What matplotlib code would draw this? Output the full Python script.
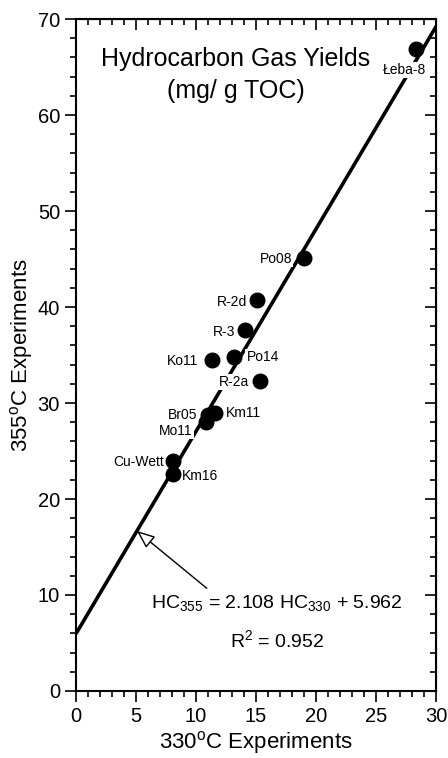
import numpy as np
import matplotlib
matplotlib.use('Agg')
import matplotlib.pyplot as plt
from matplotlib.ticker import MultipleLocator

plt.rcParams['font.family'] = ['Liberation Sans', 'DejaVu Sans']
plt.rcParams['mathtext.fontset'] = 'custom'
plt.rcParams['mathtext.rm'] = 'Liberation Sans'
plt.rcParams['mathtext.it'] = 'Liberation Sans'

# dane
names = ['Łeba-8', 'Po08', 'R-2d', 'R-3', 'Ko11', 'Po14', 'R-2a',
         'Br05', 'Km11', 'Mo11', 'Cu-Wett', 'Km16']
hc330 = [28.3, 19.0, 15.1, 14.1, 11.3, 13.2, 15.3, 11.0, 11.6, 10.8, 8.1, 8.1]
hc355 = [66.9, 45.1, 40.7, 37.6, 34.5, 34.8, 32.3, 28.8, 29.0, 28.0, 24.0, 22.6]
slope = 2.108
intercept = 5.962
r2 = 0.952

# przesuniecia etykiet (piksele), wyrownanie
label_off = {
    'Łeba-8': (11, -21, 'right'), 'Po08': (-12, -1, 'right'),
    'R-2d': (-10, -2, 'right'), 'R-3': (-10, -2, 'right'),
    'Ko11': (-13, -1, 'right'), 'Po14': (12, 0, 'left'),
    'R-2a': (-10, -1, 'right'), 'Br05': (-11, 0, 'right'),
    'Km11': (11, 0, 'left'), 'Mo11': (-13, -9, 'right'),
    'Cu-Wett': (-9, -1, 'right'), 'Km16': (9, -2, 'left'),
}

fig = plt.figure(figsize=(4.48, 7.58), dpi=100)
ax = fig.add_axes([0.1696, 0.0884, 0.8036, 0.8865])

# linia regresji
xl = np.array([0, 30.5])
ax.plot(xl, slope * xl + intercept, color='black', lw=2.6, zorder=2,
        solid_capstyle='butt')

ax.scatter(hc330, hc355, s=110, color='black', zorder=4, clip_on=False)

for n, x, y in zip(names, hc330, hc355):
    dx, dy, ha = label_off[n]
    ax.annotate(n, (x, y), xytext=(dx, dy), textcoords='offset pixels',
                ha=ha, va='center', fontsize=10, zorder=3,
                bbox=dict(boxstyle='square,pad=0.08', fc='white', ec='none'))

ax.text(13.3, 65.8, 'Hydrocarbon Gas Yields', ha='center', va='center', fontsize=18)
ax.text(13.3, 62.5, '(mg/ g TOC)', ha='center', va='center', fontsize=18)

ax.annotate('', xy=(5.08, slope * 5.08 + intercept), xytext=(10.9, 10.7),
            arrowprops=dict(arrowstyle='-|>,head_length=1.1,head_width=0.45',
                            fc='white', ec='black', lw=1.0, shrinkA=0, shrinkB=0))
ax.text(16.75, 9.2, r'HC$_{355}$ = 2.108 HC$_{330}$ + 5.962', ha='center',
        va='center', fontsize=14)
ax.text(16.75, 5.3, r'R$^2$ = 0.952', ha='center', va='center', fontsize=14)

ax.set_xlim(0, 30)
ax.set_ylim(0, 70)
ax.xaxis.set_major_locator(MultipleLocator(5))
ax.xaxis.set_minor_locator(MultipleLocator(1))
ax.yaxis.set_major_locator(MultipleLocator(10))
ax.yaxis.set_minor_locator(MultipleLocator(2))
ax.tick_params(which='both', direction='out', width=1.2, labelsize=14.5,
               top=False, right=False)
ax.tick_params(which='major', length=8)
ax.tick_params(which='minor', length=4.5)
for s in ax.spines.values():
    s.set_linewidth(1.5)

# ticki do srodka na gorze i po prawej
axt = ax.secondary_xaxis('top')
axt.xaxis.set_major_locator(MultipleLocator(5))
axt.xaxis.set_minor_locator(MultipleLocator(1))
axt.tick_params(which='both', direction='in', width=1.2, labeltop=False)
axt.tick_params(which='major', length=8)
axt.tick_params(which='minor', length=4.5)
axr = ax.secondary_yaxis('right')
axr.yaxis.set_major_locator(MultipleLocator(10))
axr.yaxis.set_minor_locator(MultipleLocator(2))
axr.tick_params(which='both', direction='in', width=1.2, labelright=False)
axr.tick_params(which='major', length=8)
axr.tick_params(which='minor', length=4.5)

ax.set_xlabel(r'330$^{\mathrm{o}}$C Experiments', fontsize=16, labelpad=2)
ax.set_ylabel(r'355$^{\mathrm{o}}$C Experiments', fontsize=16, labelpad=2)

fig.savefig('out.png', dpi=100)
